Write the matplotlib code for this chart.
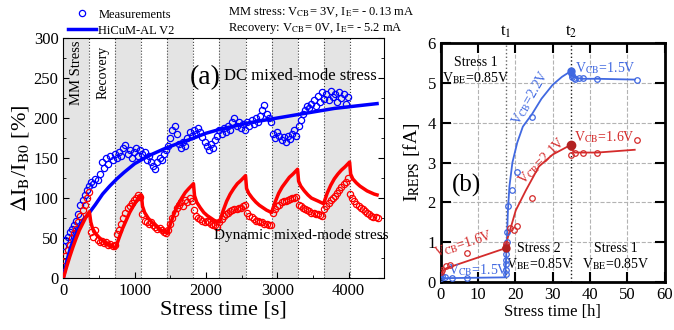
import matplotlib; matplotlib.use("Agg")
import matplotlib.pyplot as plt
import numpy as np

plt.rcParams["font.family"] = ["Liberation Serif", "DejaVu Serif"]
plt.rcParams["mathtext.fontset"] = "stix"

# ── (a) left panel data ────────────────────────────────────────────────────
PERIOD = 365                       # stress / recovery half-period [s]
dc_meas_dt = 30                    # sampling of DC measurement [s]
dc_meas = [
    40, 48, 52, 58, 62, 66, 72, 80, 92, 98,
    104, 110, 115, 120, 117, 124, 122, 130, 145, 138,
    150, 142, 152, 148, 155, 150, 158, 152, 162, 166,
    155, 160, 150, 158, 162, 152, 160, 155, 158, 148,
    152, 145, 140, 136, 145, 150, 148, 155, 160, 165,
    175, 185, 190, 180, 168, 162, 170, 165, 175, 182,
    178, 185, 180, 188, 182, 176, 170, 165, 160, 168,
    162, 172, 178, 185, 180, 188, 182, 190, 185, 195,
    200, 190, 195, 188, 192, 185, 195, 190, 198, 192,
    200, 195, 202, 210, 216, 205, 200, 195, 180, 175,
    182, 178, 172, 176, 170, 178, 174, 180, 185, 178,
    190, 198, 205, 210, 215, 212, 218, 222, 215, 228,
    220, 232, 224, 230, 222, 234, 226, 230, 220, 232,
    225, 230, 218, 226,
]
dc_model_t = [0, 50, 100, 150, 200, 250, 300, 350, 450, 550, 650, 750, 850,
              1000, 1200, 1400, 1600, 1800, 2000, 2200, 2400, 2600, 2800,
              3000, 3200, 3400, 3600, 3800, 4000, 4200, 4400]
dc_model = [0, 22, 38, 50, 60, 68, 75, 80, 92, 105, 115, 124, 132,
            143, 153, 161, 168, 174, 181, 186, 190, 194, 197,
            200, 203, 206, 209, 212, 214, 216, 218]

dyn_meas_t = [
    0, 30, 60, 90, 120, 150, 180, 210, 240, 270, 300, 330, 360,
    390, 420, 450, 480, 510, 540, 570, 600, 630, 660, 690, 720,
    750, 780, 810, 840, 870, 900, 930, 960, 990, 1020, 1050, 1080,
    1110, 1140, 1170, 1200, 1230, 1260, 1290, 1320, 1350, 1380, 1410, 1440,
    1470, 1500, 1530, 1560, 1590, 1620, 1650, 1680, 1710, 1740, 1770, 1800,
    1830, 1860, 1890, 1920, 1950, 1980, 2010, 2040, 2070, 2100, 2130, 2160,
    2190, 2220, 2250, 2280, 2310, 2340, 2370, 2400, 2430, 2460, 2490, 2520, 2550,
    2580, 2610, 2640, 2670, 2700, 2730, 2760, 2790, 2820, 2850, 2880, 2910,
    2940, 2970, 3000, 3030, 3060, 3090, 3120, 3150, 3180, 3210, 3240, 3270,
    3300, 3330, 3360, 3390, 3420, 3450, 3480, 3510, 3540, 3570, 3600, 3630,
    3660, 3690, 3720, 3750, 3780, 3810, 3840, 3870, 3900, 3930, 3960, 3990,
    4020, 4050, 4080, 4110, 4140, 4170, 4200, 4230, 4260, 4290, 4320, 4350, 4380, 4410,
]
dyn_meas = [
    15, 28, 35, 42, 50, 56, 62, 70, 78, 85, 92, 100, 108,
    58, 52, 60, 48, 45, 47, 44, 45, 42, 43, 40, 42,
    55, 60, 68, 75, 82, 88, 90, 94, 98, 100, 104, 102,
    80, 72, 70, 68, 70, 66, 64, 62, 63, 60, 58, 56,
    60, 68, 75, 82, 88, 92, 95, 90, 98, 95, 100, 96,
    85, 78, 75, 74, 72, 70, 72, 70, 68, 67, 66, 64,
    70, 74, 78, 80, 82, 84, 85, 86, 87, 88, 88, 90, 92,
    82, 78, 76, 74, 72, 72, 70, 70, 68, 68, 67, 66,
    82, 86, 90, 92, 95, 96, 97, 98, 99, 100, 100, 102,
    92, 90, 88, 86, 85, 84, 82, 82, 80, 80, 79, 78,
    86, 90, 94, 98, 100, 103, 106, 110, 114, 117, 120, 125,
    105, 100, 96, 93, 90, 88, 86, 84, 82, 80, 78, 77, 76, 75,
]
dyn_model_t = [
    0, 45, 90, 135, 180, 225, 270, 315, 365,
    385, 410, 450, 500, 550, 600, 650, 700, 730,
    780, 830, 880, 930, 980, 1030, 1095,
    1110, 1140, 1190, 1240, 1290, 1340, 1390, 1460,
    1510, 1560, 1610, 1660, 1710, 1760, 1825,
    1840, 1870, 1920, 1970, 2020, 2070, 2120, 2190,
    2240, 2290, 2340, 2390, 2440, 2490, 2555,
    2570, 2600, 2650, 2700, 2750, 2800, 2850, 2920,
    2970, 3020, 3070, 3120, 3170, 3220, 3285,
    3300, 3330, 3380, 3430, 3480, 3530, 3580, 3650,
    3700, 3750, 3800, 3850, 3900, 3950, 4015,
    4030, 4060, 4110, 4160, 4210, 4260, 4310, 4360, 4400,
]
dyn_model = [
    0, 14, 27, 39, 50, 60, 68, 76, 83,
    70, 62, 56, 51, 47, 44, 41, 39, 37,
    50, 62, 72, 82, 90, 97, 104,
    90, 82, 75, 70, 66, 62, 59, 56,
    70, 82, 92, 100, 107, 112, 118,
    103, 95, 88, 82, 78, 75, 72, 70,
    84, 96, 105, 112, 118, 122, 128,
    112, 106, 100, 95, 91, 88, 85, 82,
    95, 106, 114, 120, 126, 130, 136,
    121, 115, 109, 104, 100, 98, 96, 93,
    106, 116, 124, 130, 135, 139, 145,
    130, 124, 119, 115, 112, 109, 107, 105, 104,
]

# ── (b) right panel data ───────────────────────────────────────────────────
blue_line_t = [0, 0.3, 1, 17.3, 17.5, 17.7, 18.0, 18.4, 19.2, 20.5, 22, 24.5,
               27, 30, 32.5, 35, 35.2, 35.5, 36.5, 38, 42, 52]
blue_line = [0.15, 0.12, 0.1, 0.12, 0.6, 1.0, 1.8, 2.4, 3.0, 3.5, 3.9, 4.22,
             4.6, 4.95, 5.15, 5.3, 5.2, 5.15, 5.12, 5.1, 5.1, 5.08]
blue_pts_t = [0.1, 0.2, 1, 3, 7, 17.5, 17.5, 17.5, 17.5, 17.6, 17.6, 17.7,
              17.8, 18.1, 19, 20.3, 24.5, 35, 35, 35.1, 35.3, 35.6, 36, 37,
              38, 42, 52.5]
blue_pts = [0.1, 0.15, 0.12, 0.1, 0.1, 0.2, 0.3, 0.45, 0.55, 0.7, 0.85, 1.0,
            1.25, 1.9, 2.3, 2.75, 4.15, 5.3, 5.25, 5.2, 5.15, 5.12, 5.1, 5.12,
            5.12, 5.1, 5.07]
red_line_t = [0, 0.5, 1.5, 17.3, 17.6, 18.8, 20.1, 22.8, 26.3, 30, 35,
              35.5, 36, 38, 42, 52]
red_line = [0.2, 0.28, 0.35, 0.85, 1.0, 1.38, 1.8, 2.3, 2.9, 3.2, 3.45,
            3.28, 3.25, 3.25, 3.25, 3.32]
red_pts_t = [0.1, 0.3, 1.5, 2.5, 7, 17.3, 17.5, 17.6, 18.5, 19.5, 20.3,
             24.5, 35, 35, 35, 36, 38, 42, 52.5]
red_pts = [0.25, 0.3, 0.4, 0.42, 0.72, 0.85, 0.9, 0.95, 1.35, 1.3, 1.4,
           2.1, 3.45, 3.4, 3.2, 3.25, 3.25, 3.25, 3.57]
t1, t2 = 17.5, 35

BLUE_B = "#4169e1"
RED_B = "#d42b2b"

fig = plt.figure(figsize=(6.74, 3.30), dpi=100)

# ── panel (a) ──────────────────────────────────────────────────────────────
ax = fig.add_axes([0.094, 0.157, 0.476, 0.728])
for k in range(0, 11, 2):
    ax.axvspan(k * PERIOD, (k + 1) * PERIOD, color="#e4e4e4", lw=0, zorder=0)
for k in range(1, 12):
    ax.axvline(k * PERIOD, color="0.25", ls=":", lw=0.8, zorder=1)

dc_t = np.arange(len(dc_meas)) * dc_meas_dt
ax.plot(dc_t, dc_meas, "o", mfc="none", mec="blue", ms=4.5, mew=0.9,
        zorder=3, label="Measurements")
ax.plot(dc_model_t, dc_model, "-", color="blue", lw=2.5, zorder=4,
        label="HiCuM-AL V2")
ax.plot(dyn_meas_t, dyn_meas, "o", mfc="none", mec="red", ms=4.5, mew=0.9,
        zorder=3)
ax.plot(dyn_model_t, dyn_model, "-", color="red", lw=2.5, zorder=4)

ax.set_xlim(0, 4500)
ax.set_ylim(0, 300)
ax.set_xticks(np.arange(0, 4001, 1000))
ax.set_xticks(np.arange(0, 4501, 500), minor=True)
ax.set_yticks(np.arange(0, 301, 50))
ax.set_yticks(np.arange(0, 301, 25), minor=True)
ax.tick_params(direction="in", labelsize=12, right=True, length=4)
ax.tick_params(which="minor", direction="in", right=True, length=2.5)
ax.set_xlabel("Stress time [s]", fontsize=16, labelpad=1)
ax.set_ylabel(r"$\Delta$I$_\mathrm{B}$/I$_\mathrm{B0}$ [%]", fontsize=16,
              labelpad=2)

ax.text(190, 257, "MM Stress", rotation=90, ha="center", va="center", fontsize=10.5)
ax.text(560, 257, "Recovery", rotation=90, ha="center", va="center", fontsize=10)
ax.text(1990, 251, "(a)", ha="center", va="center", fontsize=20)
ax.text(3320, 252, "DC mixed-mode stress", ha="center", va="center", fontsize=12)
ax.text(3340, 53, "Dynamic mixed-mode stress", ha="center", va="center",
        fontsize=11)

ax.legend(loc="lower left", bbox_to_anchor=(0.0, 0.985), frameon=False,
          fontsize=9, handlelength=2.2, handletextpad=0.2, borderaxespad=0,
          labelspacing=0.3)
fig.text(0.338, 0.963, r"MM stress: V$_\mathrm{CB}$= 3V, I$_\mathrm{E}$= - 0.13 mA",
         fontsize=9, va="center")
fig.text(0.338, 0.913, r"Recovery: V$_\mathrm{CB}$= 0V, I$_\mathrm{E}$= - 5.2 mA",
         fontsize=9, va="center")

# ── panel (b) ──────────────────────────────────────────────────────────────
bx = fig.add_axes([0.654, 0.145, 0.332, 0.725])
bx.grid(True, ls="--", color="0.7", lw=0.8)
bx.axvline(t1, color="0.4", ls=":", lw=1)
bx.axvline(t2, color="0.1", ls=":", lw=1)

bx.plot(blue_line_t, blue_line, "-", color=BLUE_B, lw=1.3, zorder=3)
bx.plot(blue_pts_t, blue_pts, "o", mfc="none", mec=BLUE_B, ms=4, mew=0.9, zorder=4)
bx.plot(red_line_t, red_line, "-", color=RED_B, lw=1.3, zorder=3)
bx.plot(red_pts_t, red_pts, "o", mfc="none", mec=RED_B, ms=4, mew=0.9, zorder=4)
bx.plot([t2], [blue_line[15]], "o", color=BLUE_B, ms=5, zorder=5)
bx.plot([t2], [red_line[10]], "o", color="#b22222", ms=6, zorder=5)
bx.plot([t1], [red_line[3]], "o", color="#b22222", ms=5, zorder=5)

bx.set_xlim(0, 60)
bx.set_ylim(0, 6)
bx.set_xticks(np.arange(0, 61, 10))
bx.set_yticks(np.arange(0, 7, 1))
bx.tick_params(direction="in", labelsize=12, top=True, right=True,
               length=7, width=1.5)
for sp in bx.spines.values():
    sp.set_linewidth(2)
bx.set_xlabel("Stress time [h]", fontsize=12, labelpad=1)
bx.set_ylabel(r"I$_\mathrm{REPS}$ [fA]", fontsize=14, labelpad=4)

bx.text(t1, 6.08, r"t$_1$", ha="center", va="bottom", fontsize=12)
bx.text(t2, 6.08, r"t$_2$", ha="center", va="bottom", fontsize=12)
bx.text(9.3, 5.5, "Stress 1", ha="center", va="center", fontsize=10)
bx.text(9.3, 5.12, r"V$_\mathrm{BE}$=0.85V", ha="center", va="center", fontsize=10)
bx.text(26.3, 0.84, "Stress 2", ha="center", va="center", fontsize=10)
bx.text(26.5, 0.45, r"V$_\mathrm{BE}$=0.85V", ha="center", va="center", fontsize=10)
bx.text(47, 0.84, "Stress 1", ha="center", va="center", fontsize=10)
bx.text(47, 0.45, r"V$_\mathrm{BE}$=0.85V", ha="center", va="center", fontsize=10)
bx.text(6.9, 2.42, "(b)", ha="center", va="center", fontsize=18)

bx.text(44.2, 5.38, r"V$_\mathrm{CB}$=1.5V", color=BLUE_B, ha="center",
        va="center", fontsize=10)
bx.text(43.8, 3.63, r"V$_\mathrm{CB}$=1.6V", color=RED_B, ha="center",
        va="center", fontsize=10)
bx.text(24.0, 4.63, r"V$_\mathrm{CB}$=2.2V", color=BLUE_B, ha="center",
        va="center", fontsize=10, rotation=60)
bx.text(27.0, 3.05, r"V$_\mathrm{CB}$=2.1V", color=RED_B, ha="center",
        va="center", fontsize=10, rotation=45)
bx.text(6.2, 0.95, r"V$_\mathrm{CB}$=1.6V", color=RED_B, ha="center",
        va="center", fontsize=10, rotation=18)
bx.text(10.2, 0.3, r"V$_\mathrm{CB}$=1.5V", color=BLUE_B, ha="center",
        va="center", fontsize=10)

fig.savefig("out.png", dpi=100)
